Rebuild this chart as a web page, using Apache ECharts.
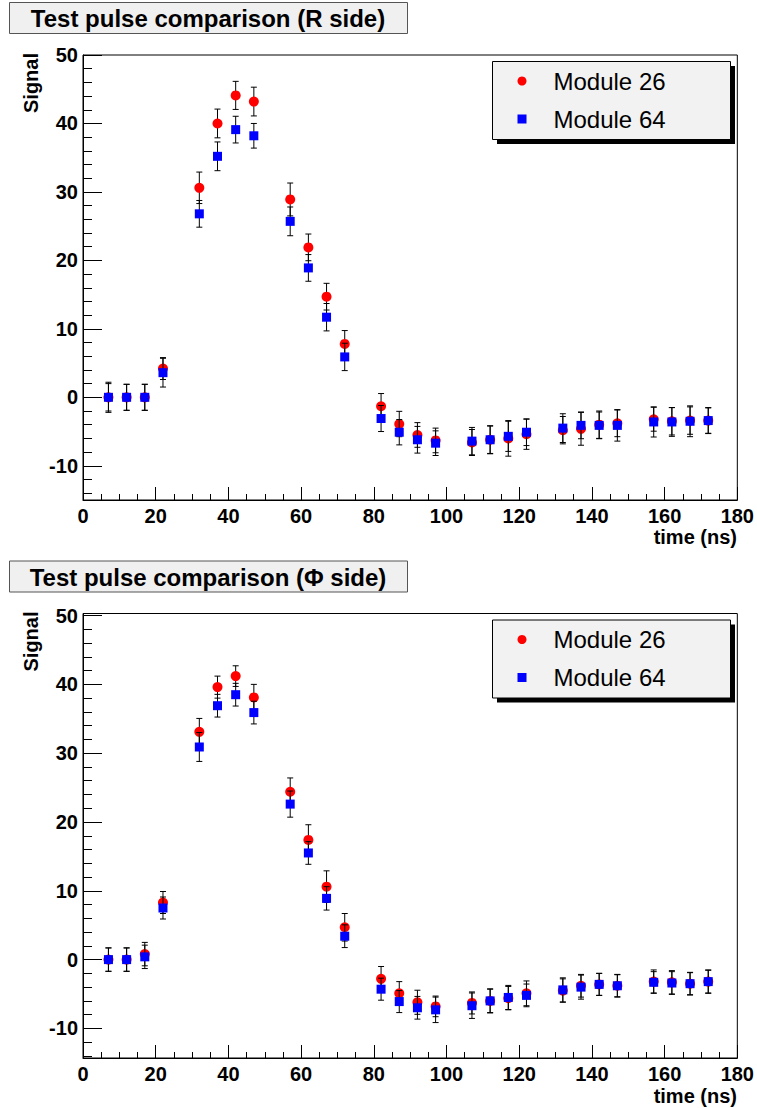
<!DOCTYPE html>
<html>
<head>
<meta charset="utf-8">
<script src="https://cdn.jsdelivr.net/npm/echarts@6/dist/echarts.min.js"></script>
<style>
  html, body { margin: 0; padding: 0; background: #fff; }
  #main { width: 757px; height: 1108px; }
</style>
</head>
<body>
<div id="main"></div>
<script>
// sampling times (ns), shared by both panels
var times = [7, 12, 17, 22, 32, 37, 42, 47, 57, 62, 67, 72, 82, 87, 92, 97, 107, 112, 117, 122, 132, 137, 142, 147, 157, 162, 167, 172];

// R side
var rMod26 = [0, 0, 0, 4.2, 30.6, 40.0, 44.1, 43.2, 28.9, 21.9, 14.7, 7.8, -1.3, -3.9, -5.5, -6.3, -6.6, -6.2, -6.0, -5.4, -4.8, -4.6, -4.0, -3.8, -3.2, -3.5, -3.4, -3.4];
var rMod26Err = [2.0, 1.9, 1.9, 1.6, 2.3, 2.1, 2.05, 2.1, 2.4, 1.95, 1.95, 1.95, 1.85, 1.85, 1.8, 1.8, 1.9, 2.0, 2.6, 2.2, 2.0, 2.4, 2.0, 1.95, 1.75, 2.0, 2.0, 1.9];
var rMod64 = [0, 0, 0, 3.6, 26.8, 35.2, 39.1, 38.2, 25.7, 18.9, 11.7, 5.9, -3.1, -5.1, -6.2, -6.7, -6.4, -6.2, -5.7, -5.1, -4.5, -4.1, -4.1, -4.1, -3.6, -3.6, -3.5, -3.4];
var rMod64Err = [2.2, 1.9, 1.9, 2.1, 1.95, 2.1, 1.95, 1.8, 2.1, 1.95, 2.0, 2.0, 1.9, 1.85, 1.95, 1.8, 2.0, 2.05, 2.2, 1.95, 2.1, 1.95, 1.95, 2.3, 2.2, 2.1, 2.25, 1.85];

// Phi side
var pMod26 = [0, 0, 0.8, 8.3, 33.1, 39.6, 41.2, 38.1, 24.4, 17.4, 10.6, 4.7, -2.8, -4.9, -6.2, -6.8, -6.3, -6.0, -5.6, -4.9, -4.5, -3.8, -3.6, -3.8, -3.2, -3.3, -3.5, -3.2];
var pMod26Err = [1.7, 1.7, 1.7, 1.6, 1.95, 1.6, 1.5, 1.9, 2.0, 2.2, 2.3, 2.0, 1.8, 1.7, 1.75, 1.5, 1.6, 1.7, 1.7, 1.8, 1.7, 1.65, 1.6, 1.6, 1.7, 1.7, 1.65, 1.65];
var pMod64 = [0, 0, 0.4, 7.5, 30.9, 36.9, 38.5, 35.9, 22.6, 15.5, 8.9, 3.4, -4.3, -6.1, -7.0, -7.3, -6.7, -6.0, -5.5, -5.2, -4.4, -4.0, -3.6, -3.8, -3.3, -3.4, -3.5, -3.2];
var pMod64Err = [1.7, 1.7, 1.7, 1.6, 2.1, 1.65, 1.65, 1.65, 1.9, 1.65, 1.7, 1.65, 1.6, 1.6, 1.65, 1.85, 1.85, 1.75, 1.75, 1.65, 1.75, 1.75, 1.6, 1.65, 1.55, 1.65, 1.6, 1.7];

var legendNames = ['Module 26', 'Module 64'];
var colors = ['#ff0000', '#0000ff'];
var titles = ['Test pulse comparison (R side)', 'Test pulse comparison (\u03A6 side)'];

var FONT = 'Liberation Sans, Arial, Helvetica, sans-serif';

function pts(vals) {
  return times.map(function (t, i) { return [t, vals[i]]; });
}
function errPts(vals, errs) {
  return times.map(function (t, i) { return [t, vals[i], errs[i]]; });
}

// error bar with small caps
function renderErr(params, api) {
  var x = api.value(0), y = api.value(1), e = api.value(2);
  var lo = api.coord([x, y - e]);
  var hi = api.coord([x, y + e]);
  var c = 3;
  var st = { stroke: '#000', lineWidth: 1 };
  return {
    type: 'group',
    children: [
      { type: 'line', shape: { x1: lo[0], y1: lo[1], x2: hi[0], y2: hi[1] }, style: st },
      { type: 'line', shape: { x1: lo[0] - c, y1: lo[1], x2: lo[0] + c, y2: lo[1] }, style: st },
      { type: 'line', shape: { x1: hi[0] - c, y1: hi[1], x2: hi[0] + c, y2: hi[1] }, style: st }
    ]
  };
}

function xAxisFor(gi) {
  return {
    type: 'value', gridIndex: gi, min: 0, max: 180, interval: 20,
    axisLine: { show: true, onZero: false, lineStyle: { color: '#000', width: 1 } },
    axisTick: { show: true, inside: true, length: 13, lineStyle: { color: '#000' } },
    minorTick: { show: true, splitNumber: 4, length: 6, lineStyle: { color: '#000' } },
    splitLine: { show: false },
    axisLabel: { margin: 6, color: '#000', fontSize: 20, fontWeight: 'bold', fontFamily: FONT }
  };
}
function yAxisFor(gi, min, max) {
  return {
    type: 'value', gridIndex: gi, min: min, max: max, splitNumber: 6,
    axisLine: { show: true, onZero: false, lineStyle: { color: '#000', width: 1 } },
    axisTick: { show: true, inside: true, length: 19, lineStyle: { color: '#000' } },
    minorTick: { show: true, splitNumber: 5, length: 9, lineStyle: { color: '#000' } },
    splitLine: { show: false },
    axisLabel: {
      margin: 5, color: '#000', fontSize: 20, fontWeight: 'bold', fontFamily: FONT,
      showMinLabel: false, showMaxLabel: min === -15
    }
  };
}

function panelSeries(gi, red, redErr, blue, blueErr) {
  return [
    { type: 'custom', name: legendNames[0], xAxisIndex: gi, yAxisIndex: gi, z: 2,
      itemStyle: { color: colors[0] }, renderItem: renderErr, data: errPts(red, redErr), silent: true },
    { type: 'scatter', name: legendNames[0], xAxisIndex: gi, yAxisIndex: gi, z: 3,
      symbol: 'circle', symbolSize: 10, itemStyle: { color: colors[0], opacity: 1 }, data: pts(red) },
    { type: 'custom', name: legendNames[1], xAxisIndex: gi, yAxisIndex: gi, z: 4,
      itemStyle: { color: colors[1] }, renderItem: renderErr, data: errPts(blue, blueErr), silent: true },
    { type: 'scatter', name: legendNames[1], xAxisIndex: gi, yAxisIndex: gi, z: 5,
      symbol: 'rect', symbolSize: 9, itemStyle: { color: colors[1], opacity: 1 }, data: pts(blue) }
  ];
}

function legendFor(top) {
  return {
    orient: 'vertical', left: 517.5, top: top, padding: 0, itemGap: 12,
    itemWidth: 9, itemHeight: 9, z: 10,
    data: [
      { name: legendNames[0], icon: 'circle', itemStyle: { color: colors[0], opacity: 1 } },
      { name: legendNames[1], icon: 'rect', itemStyle: { color: colors[1], opacity: 1 } }
    ],
    textStyle: { fontSize: 24, lineHeight: 26, color: '#000', fontFamily: FONT, padding: [0, 0, 0, 22] }
  };
}

function panelGraphics(dy, title) {
  return [
    { type: 'rect', z: 1, shape: { x: 9.5, y: 2.5 + dy, width: 398, height: 31 },
      style: { fill: '#f0f0f0', stroke: '#555', lineWidth: 1 } },
    { type: 'text', z: 2, x: 208, y: 18.5 + dy,
      style: { text: title, fill: '#000', font: 'bold 24px ' + FONT, textAlign: 'center', textVerticalAlign: 'middle' } },
    { type: 'text', z: 2, x: 31, y: 53 + dy, rotation: Math.PI / 2,
      style: { text: 'Signal', fill: '#000', font: 'bold 20px ' + FONT, textAlign: 'right', textVerticalAlign: 'middle' } },
    { type: 'text', z: 2, x: 737, y: 537 + dy,
      style: { text: 'time (ns)', fill: '#000', font: 'bold 20px ' + FONT, textAlign: 'right', textVerticalAlign: 'middle' } },
    // legend box with shadow
    { type: 'rect', z: 1, shape: { x: 497, y: 66 + dy, width: 238, height: 78 },
      style: { fill: '#000' } },
    { type: 'rect', z: 1, shape: { x: 492.5, y: 61.5 + dy, width: 238, height: 78 },
      style: { fill: '#f2f2f2', stroke: '#000', lineWidth: 1 } }
  ];
}

var chart = echarts.init(document.getElementById('main'), null, { renderer: 'svg' });
chart.setOption({
  backgroundColor: '#fff',
  animation: false,
  color: colors,
  grid: [
    { left: 83, top: 55, width: 655, height: 445, show: true, borderColor: '#000', borderWidth: 1, backgroundColor: 'transparent' },
    { left: 83, top: 613.5, width: 655, height: 444.5, show: true, borderColor: '#000', borderWidth: 1, backgroundColor: 'transparent' }
  ],
  xAxis: [xAxisFor(0), xAxisFor(1)],
  yAxis: [yAxisFor(0, -15, 50), yAxisFor(1, -14.3, 50.3)],
  legend: [legendFor(68), legendFor(626.5)],
  graphic: panelGraphics(0, titles[0]).concat(panelGraphics(558.5, titles[1])),
  series: panelSeries(0, rMod26, rMod26Err, rMod64, rMod64Err)
    .concat(panelSeries(1, pMod26, pMod26Err, pMod64, pMod64Err))
});
</script>
</body>
</html>
